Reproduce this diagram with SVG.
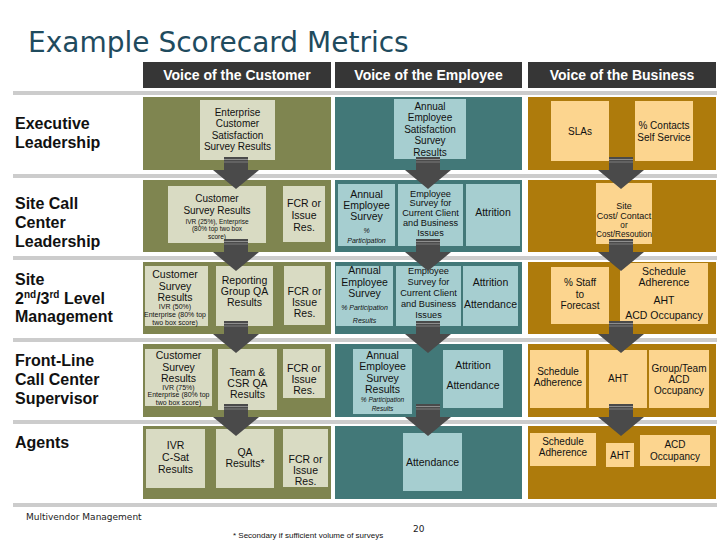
<svg xmlns="http://www.w3.org/2000/svg" width="728" height="546" viewBox="0 0 728 546">
<style>
text{font-family:"Liberation Sans",Arial,sans-serif;fill:#111;text-anchor:middle}
.pc{fill:#7f8550}.pe{fill:#427878}.pb{fill:#ae7b0c}
.bc{fill:#d9dbc3}.be{fill:#a6ced0}.bb{fill:#fcd58f}
.sep{fill:#cccccc}
.tab{fill:#363636}
.tt{fill:#fff;font-weight:bold;font-size:14px}
.lbl{font-weight:bold;font-size:16px;text-anchor:start}
.f{font-size:10.5px}.g{font-size:10px}.h{font-size:9.2px}
.s{font-size:7px}.x{font-size:6.5px}.i{font-style:italic}
.ft{font-family:"DejaVu Sans",Verdana,sans-serif;font-size:9px;fill:#222;text-anchor:start}
</style>
<defs>
<g id="arrow">
<rect x="-12" y="-13" width="24" height="13" fill="#4a4a4a"/>
<rect x="-12" y="-11" width="24" height="1" fill="#8e8e8e"/>
<rect x="-12" y="-8.5" width="24" height="1" fill="#7a7a7a"/>
<polygon points="-23,0 23,0 0,19" fill="#4a4a4a"/>
</g>
</defs>
<rect width="728" height="546" fill="#fff"/>
<text x="28" y="51.5" style="font-family:'DejaVu Sans',Verdana,sans-serif;font-size:28px;fill:#1f4b5e;text-anchor:start">Example Scorecard Metrics</text>

<g id="headers">
<rect class="tab" x="143" y="62" width="188" height="26"/>
<rect class="tab" x="335" y="62" width="187" height="26"/>
<rect class="tab" x="528" y="62" width="188" height="26"/>
<text class="tt" x="237" y="80">Voice of the Customer</text>
<text class="tt" x="428.5" y="80">Voice of the Employee</text>
<text class="tt" x="622" y="80">Voice of the Business</text>
</g>

<g id="separators">
<rect class="sep" x="13" y="91" width="704" height="4"/>
<rect class="sep" x="13" y="174" width="704" height="4"/>
<rect class="sep" x="13" y="256" width="704" height="4"/>
<rect class="sep" x="13" y="338" width="704" height="4"/>
<rect class="sep" x="13" y="420" width="704" height="4"/>
<rect class="sep" x="13" y="503" width="704" height="4"/>
</g>

<g id="row-labels">
<text class="lbl" x="15" y="129">Executive</text>
<text class="lbl" x="15" y="148">Leadership</text>
<text class="lbl" x="15" y="209">Site Call</text>
<text class="lbl" x="15" y="228">Center</text>
<text class="lbl" x="15" y="247">Leadership</text>
<text class="lbl" x="15" y="285">Site</text>
<text class="lbl" x="15" y="304">2<tspan font-size="10" dy="-6">nd</tspan><tspan dy="6">/3</tspan><tspan font-size="10" dy="-6">rd</tspan><tspan dy="6"> Level</tspan></text>
<text class="lbl" x="15" y="322">Management</text>
<text class="lbl" x="15" y="366">Front-Line</text>
<text class="lbl" x="15" y="385">Call Center</text>
<text class="lbl" x="15" y="404">Supervisor</text>
<text class="lbl" x="15" y="448">Agents</text>
</g>

<g id="panels">
<rect class="pc" x="143" y="97" width="188" height="73"/>
<rect class="pe" x="335" y="97" width="187" height="73"/>
<rect class="pb" x="528" y="97" width="188" height="73"/>
<rect class="pc" x="143" y="180" width="188" height="72"/>
<rect class="pe" x="335" y="180" width="187" height="72"/>
<rect class="pb" x="528" y="180" width="188" height="72"/>
<rect class="pc" x="143" y="262" width="188" height="72"/>
<rect class="pe" x="335" y="262" width="187" height="72"/>
<rect class="pb" x="528" y="262" width="188" height="72"/>
<rect class="pc" x="143" y="344" width="188" height="73"/>
<rect class="pe" x="335" y="344" width="187" height="73"/>
<rect class="pb" x="528" y="344" width="188" height="73"/>
<rect class="pc" x="143" y="426" width="188" height="73"/>
<rect class="pe" x="335" y="426" width="187" height="73"/>
<rect class="pb" x="528" y="426" width="188" height="73"/>
</g>

<!-- Row 1 -->
<g id="r1-c-enterprise-csat">
<rect class="bc" x="200" y="100" width="75" height="60"/>
<text class="g" x="237.5" y="115.5">Enterprise</text>
<text class="g" x="237.5" y="127">Customer</text>
<text class="g" x="237.5" y="138.5">Satisfaction</text>
<text class="g" x="237.5" y="150">Survey Results</text>
</g>
<g id="r1-e-annual-esat">
<rect class="be" x="394" y="99" width="72" height="60"/>
<text class="g" x="430" y="109.5">Annual</text>
<text class="g" x="430" y="121">Employee</text>
<text class="g" x="430" y="132.5">Satisfaction</text>
<text class="g" x="430" y="144">Survey</text>
<text class="g" x="430" y="155.5">Results</text>
</g>
<g id="r1-b-slas">
<rect class="bb" x="551" y="101" width="58" height="60"/>
<text class="g" x="580" y="135">SLAs</text>
</g>
<g id="r1-b-contacts">
<rect class="bb" x="635" y="101" width="58" height="60"/>
<text class="g" x="664" y="128.5">% Contacts</text>
<text class="g" x="664" y="140.5">Self Service</text>
</g>

<!-- Row 2 -->
<g id="r2-c-survey">
<rect class="bc" x="168" y="186" width="98" height="57"/>
<text class="g" x="217" y="202">Customer</text>
<text class="g" x="217" y="214">Survey Results</text>
<text class="x" x="217" y="223.5">IVR (25%), Enterprise</text>
<text class="x" x="217" y="231">(80% top two box</text>
<text class="x" x="217" y="238.5">score)</text>
</g>
<g id="r2-c-fcr">
<rect class="bc" x="283" y="186" width="42" height="56"/>
<text class="f" x="304" y="207">FCR or</text>
<text class="f" x="304" y="219">Issue</text>
<text class="f" x="304" y="231">Res.</text>
</g>
<g id="r2-e-annual">
<rect class="be" x="338" y="184" width="57" height="62"/>
<text class="f" x="366.5" y="198">Annual</text>
<text class="f" x="366.5" y="209">Employee</text>
<text class="f" x="366.5" y="220">Survey</text>
<text class="s i" x="366.5" y="232.5">%</text>
<text class="s i" x="366.5" y="242.5">Participation</text>
</g>
<g id="r2-e-client-survey">
<rect class="be" x="398" y="184" width="65" height="62"/>
<text class="h" x="430.5" y="196.5">Employee</text>
<text class="h" x="430.5" y="206">Survey for</text>
<text class="h" x="430.5" y="215.5">Current Client</text>
<text class="h" x="430.5" y="225.5">and Business</text>
<text class="h" x="430.5" y="235.5">Issues</text>
</g>
<g id="r2-e-attrition">
<rect class="be" x="466" y="184" width="54" height="62"/>
<text class="f" x="493" y="216">Attrition</text>
</g>
<g id="r2-b-cost">
<rect class="bb" x="596" y="183" width="56" height="61"/>
<text x="624" y="209" font-size="9">Site</text>
<text x="624" y="219" font-size="9">Cost/ Contact</text>
<text x="624" y="227.5" font-size="8.2">or</text>
<text x="624" y="236.5" font-size="8.2">Cost/Resoution</text>
</g>

<!-- Row 3 -->
<g id="r3-c-survey">
<rect class="bc" x="145" y="266" width="63" height="60"/>
<text class="f" x="175" y="278">Customer</text>
<text class="f" x="175" y="290">Survey</text>
<text class="f" x="175" y="301">Results</text>
<text class="s" x="175" y="309">IVR (50%)</text>
<text class="s" x="175" y="317">Enterprise (80% top</text>
<text class="s" x="175" y="325">two box score)</text>
</g>
<g id="r3-c-reporting-qa">
<rect class="bc" x="216" y="266" width="57" height="60"/>
<text class="f" x="244.5" y="284">Reporting</text>
<text class="f" x="244.5" y="295">Group QA</text>
<text class="f" x="244.5" y="306">Results</text>
</g>
<g id="r3-c-fcr">
<rect class="bc" x="284" y="266" width="41" height="59"/>
<text class="f" x="304.5" y="295">FCR or</text>
<text class="f" x="304.5" y="306">Issue</text>
<text class="f" x="304.5" y="317">Res.</text>
</g>
<g id="r3-e-annual">
<rect class="be" x="336" y="266" width="57" height="60"/>
<text class="f" x="364.5" y="274">Annual</text>
<text class="f" x="364.5" y="285.5">Employee</text>
<text class="f" x="364.5" y="297">Survey</text>
<text class="s i" x="364.5" y="310">% Participation</text>
<text class="s i" x="364.5" y="323">Results</text>
</g>
<g id="r3-e-client-survey">
<rect class="be" x="396" y="266" width="65" height="60"/>
<text class="h" x="428.5" y="273.5">Employee</text>
<text class="h" x="428.5" y="284.5">Survey for</text>
<text class="h" x="428.5" y="295.5">Current Client</text>
<text class="h" x="428.5" y="306.5">and Business</text>
<text class="h" x="428.5" y="317.5">Issues</text>
</g>
<g id="r3-e-attrition">
<rect class="be" x="463" y="266" width="55" height="60"/>
<text class="f" x="490.5" y="286">Attrition</text>
<text class="f" x="490.5" y="308">Attendance</text>
</g>
<g id="r3-b-staff">
<rect class="bb" x="551" y="267" width="58" height="57"/>
<text class="g" x="580" y="286">% Staff</text>
<text class="g" x="580" y="298">to</text>
<text class="g" x="580" y="309">Forecast</text>
</g>
<g id="r3-b-schedule">
<rect class="bb" x="620" y="263" width="88" height="61"/>
<text class="f" x="664" y="275">Schedule</text>
<text class="f" x="664" y="286">Adherence</text>
<text class="f" x="664" y="304">AHT</text>
<text class="f" x="664" y="319">ACD Occupancy</text>
</g>

<!-- Row 4 -->
<g id="r4-c-survey">
<rect class="bc" x="145" y="349" width="67" height="57"/>
<text class="f" x="178.5" y="359">Customer</text>
<text class="f" x="178.5" y="371">Survey</text>
<text class="f" x="178.5" y="382">Results</text>
<text class="s" x="178.5" y="389.5">IVR (75%)</text>
<text class="s" x="178.5" y="397">Enterprise (80% top</text>
<text class="s" x="178.5" y="404.5">two box score)</text>
</g>
<g id="r4-c-team-qa">
<rect class="bc" x="218" y="349" width="59" height="61"/>
<text class="f" x="247.5" y="375.5">Team &amp;</text>
<text class="f" x="247.5" y="387">CSR QA</text>
<text class="f" x="247.5" y="398">Results</text>
</g>
<g id="r4-c-fcr">
<rect class="bc" x="283" y="349" width="42" height="49"/>
<text class="f" x="304" y="372">FCR or</text>
<text class="f" x="304" y="383">Issue</text>
<text class="f" x="304" y="394">Res.</text>
</g>
<g id="r4-e-annual">
<rect class="be" x="353" y="349" width="59" height="65"/>
<text class="f" x="382.5" y="359">Annual</text>
<text class="f" x="382.5" y="370">Employee</text>
<text class="f" x="382.5" y="382">Survey</text>
<text class="f" x="382.5" y="393">Results</text>
<text class="x i" x="382.5" y="402">% Participation</text>
<text class="x i" x="382.5" y="411">Results</text>
</g>
<g id="r4-e-attrition">
<rect class="be" x="443" y="350" width="60" height="58"/>
<text class="f" x="473" y="369">Attrition</text>
<text class="f" x="473" y="389">Attendance</text>
</g>
<g id="r4-b-schedule">
<rect class="bb" x="530" y="350" width="56" height="58"/>
<text class="g" x="558" y="375">Schedule</text>
<text class="g" x="558" y="386">Adherence</text>
</g>
<g id="r4-b-aht">
<rect class="bb" x="589" y="350" width="58" height="58"/>
<text class="g" x="618" y="382">AHT</text>
</g>
<g id="r4-b-occupancy">
<rect class="bb" x="649" y="350" width="60" height="58"/>
<text class="g" x="679" y="372">Group/Team</text>
<text class="g" x="679" y="383">ACD</text>
<text class="g" x="679" y="394">Occupancy</text>
</g>

<!-- Row 5 -->
<g id="r5-c-ivr">
<rect class="bc" x="146" y="429" width="59" height="59"/>
<text class="f" x="175.5" y="449">IVR</text>
<text class="f" x="175.5" y="461">C-Sat</text>
<text class="f" x="175.5" y="472.5">Results</text>
</g>
<g id="r5-c-qa">
<rect class="bc" x="216" y="429" width="58" height="59"/>
<text class="f" x="245" y="456">QA</text>
<text class="f" x="245" y="467">Results*</text>
</g>
<g id="r5-c-fcr">
<rect class="bc" x="283" y="429" width="45" height="58"/>
<text class="f" x="305.5" y="463">FCR or</text>
<text class="f" x="305.5" y="474">Issue</text>
<text class="f" x="305.5" y="485">Res.</text>
</g>
<g id="r5-e-attendance">
<rect class="be" x="403" y="433" width="59" height="58"/>
<text class="f" x="432.5" y="466">Attendance</text>
</g>
<g id="r5-b-schedule">
<rect class="bb" x="530" y="433" width="66" height="33"/>
<text class="g" x="563" y="444.5">Schedule</text>
<text class="g" x="563" y="455.5">Adherence</text>
</g>
<g id="r5-b-aht">
<rect class="bb" x="606" y="443" width="28" height="24"/>
<text class="g" x="620" y="458.5">AHT</text>
</g>
<g id="r5-b-occupancy">
<rect class="bb" x="640" y="435" width="70" height="31"/>
<text class="g" x="675" y="448">ACD</text>
<text class="g" x="675" y="459.5">Occupancy</text>
</g>

<g id="connectors">
<use href="#arrow" x="236" y="170"/>
<use href="#arrow" x="428" y="170"/>
<use href="#arrow" x="621" y="170"/>
<use href="#arrow" x="236" y="252"/>
<use href="#arrow" x="428" y="252"/>
<use href="#arrow" x="621" y="252"/>
<use href="#arrow" x="236" y="334"/>
<use href="#arrow" x="428" y="334"/>
<use href="#arrow" x="621" y="334"/>
<use href="#arrow" x="236" y="417"/>
<use href="#arrow" x="428" y="417"/>
<use href="#arrow" x="621" y="417"/>
</g>

<g id="footer">
<text class="ft" x="26" y="520">Multivendor Management</text>
<text class="ft" x="413" y="532">20</text>
<text x="233" y="538" font-size="8" style="text-anchor:start">* Secondary if sufficient volume of surveys</text>
</g>
</svg>
